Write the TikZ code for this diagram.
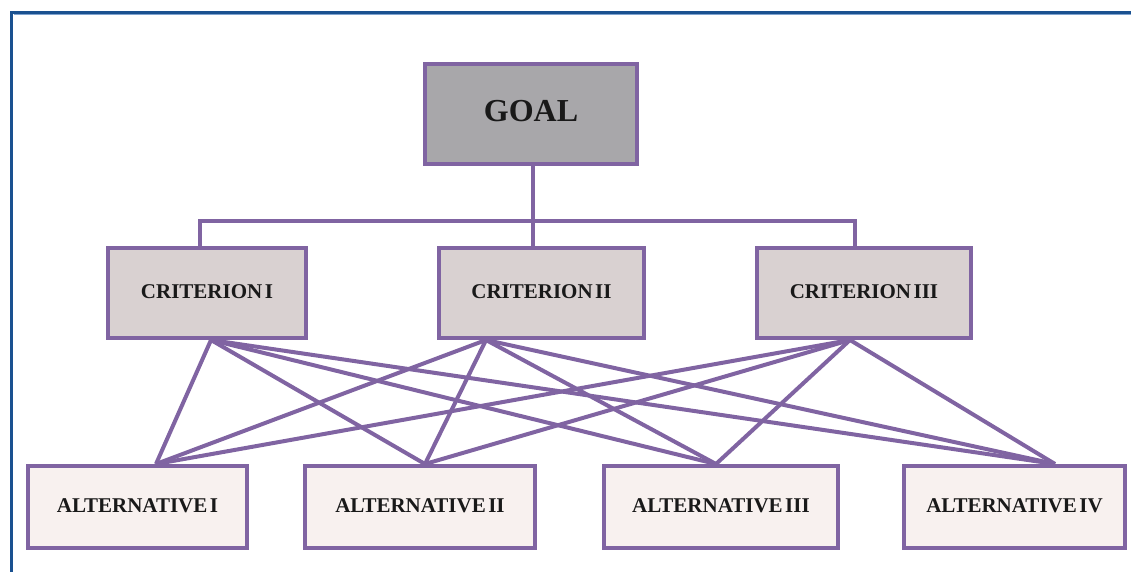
\documentclass[tikz,border=0pt]{standalone}
\usepackage{fontspec}
\setmainfont{Liberation Serif}
\definecolor{frameblue}{HTML}{1A5190}
\definecolor{framelight}{HTML}{7FA3CF}
\definecolor{lnpurple}{HTML}{8064A2}
\definecolor{goalfill}{HTML}{A8A7AA}
\definecolor{critfill}{HTML}{D9D1D1}
\definecolor{altfill}{HTML}{F8F1EF}
\newcommand{\tsp}{\hspace{0.12em}}
\begin{document}
\begin{tikzpicture}[x=1pt,y=-1pt,
  box/.style={draw=lnpurple, line width=4pt, rectangle, inner sep=0pt, font=\bfseries\fontsize{21}{24}\selectfont, text=black!90},
  goalbox/.style={box, fill=goalfill, minimum width=212pt, minimum height=100pt, font=\bfseries\fontsize{32}{36}\selectfont},
  critbox/.style={box, fill=critfill, minimum height=90pt},
  altbox/.style={box, fill=altfill, minimum height=82pt},
  link/.style={draw=lnpurple, line width=4pt}]
\useasboundingbox (0,0) rectangle (1131,572);
% frame
\draw[frameblue, line width=3.5pt] (11.5,572) -- (11.5,12.5) -- (1131,12.5);
\draw[framelight, line width=1pt] (13.5,14.8) -- (1131,14.8);
% nodes
\node[goalbox] (goal) at (531,114) {\raisebox{6pt}{GOAL}};
\node[critbox, minimum width=198pt] (c1) at (207,293) {\raisebox{3pt}{CRITERION\tsp I}};
\node[critbox, minimum width=205pt] (c2) at (541.5,293) {\raisebox{3pt}{CRITERION\tsp II}};
\node[critbox, minimum width=214pt] (c3) at (864,293) {\raisebox{3pt}{CRITERION\tsp III}};
\node[altbox, minimum width=219pt] (a1) at (137.5,507) {\raisebox{3pt}{ALTERNATIVE\tsp I}};
\node[altbox, minimum width=230pt] (a2) at (420,507) {\raisebox{3pt}{ALTERNATIVE\tsp II}};
\node[altbox, minimum width=234pt] (a3) at (721,507) {\raisebox{3pt}{ALTERNATIVE\tsp III}};
\node[altbox, minimum width=221pt] (a4) at (1014.5,507) {\raisebox{3pt}{ALTERNATIVE\tsp IV}};
% goal to criteria
\draw[link] ([xshift=-7pt]c1.north) -- ++(0,-25) -| ([xshift=-9pt]c3.north);
\draw[link] ([xshift=2pt]goal.south) -- ([xshift=-8.5pt]c2.north);
% criteria to alternatives
\foreach \c/\cx in {c1/105, c2/49, c3/95}{
  \foreach \a/\ax in {a1/130, a2/122, a3/114, a4/153}{
    \draw[link] ([xshift=\cx pt]\c.south west) -- ([xshift=\ax pt]\a.north west);
  }
}
\end{tikzpicture}
\end{document}
